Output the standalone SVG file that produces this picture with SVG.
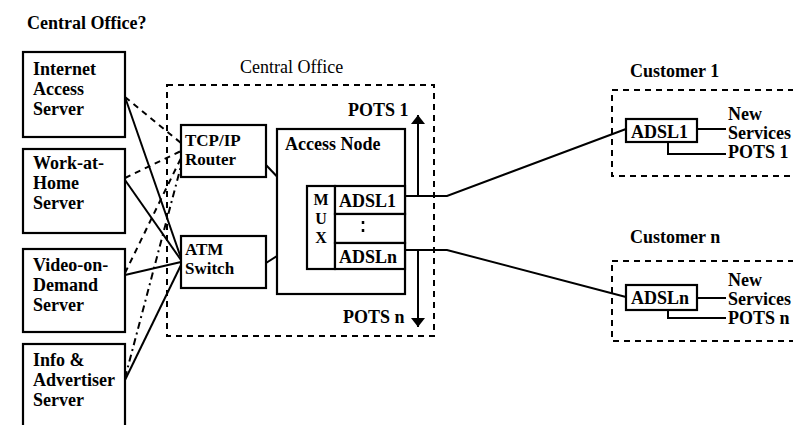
<svg xmlns="http://www.w3.org/2000/svg" width="793" height="425" viewBox="0 0 793 425">
  <style>
    text { font-family: "Liberation Serif", "Times New Roman", serif; font-size: 18px; font-weight: bold; fill: #000; }
    .light { font-weight: normal; }
    .tight { font-size: 17px; }
    .mux { font-size: 16px; }
    .box { fill: #fff; stroke: #000; stroke-width: 2.2; }
    .zone { fill: none; stroke: #000; stroke-width: 2; stroke-dasharray: 6 5; }
    .wire { fill: none; stroke: #000; stroke-width: 2; }
    .dash { fill: none; stroke: #000; stroke-width: 2; stroke-dasharray: 6 5; }
    .dashdot { fill: none; stroke: #000; stroke-width: 2; stroke-dasharray: 7 4 2 4; }
  </style>
  <defs>
    <marker id="arrow" viewBox="0 0 9 14" refX="9" refY="7" markerWidth="9" markerHeight="14" orient="auto" markerUnits="userSpaceOnUse">
      <path d="M0,0 L9,7 L0,14 z" fill="#000"/>
    </marker>
  </defs>
  <rect width="793" height="425" fill="#fff"/>

  <text x="27" y="29">Central Office?</text>

  <!-- zone outlines -->
  <g id="central-office">
    <rect class="zone" x="167" y="85" width="267" height="251"/>
    <text class="light" x="240" y="73">Central Office</text>
  </g>
  <g id="customer-1">
    <rect class="zone" x="612" y="90" width="200" height="86"/>
    <text x="630" y="77">Customer 1</text>
  </g>
  <g id="customer-n">
    <rect class="zone" x="612" y="261" width="200" height="80"/>
    <text x="630" y="243">Customer n</text>
  </g>

  <!-- servers -->
  <g id="internet-access-server">
    <rect class="box" x="23" y="52" width="102" height="85"/>
    <text x="33" y="75">Internet</text>
    <text x="33" y="95">Access</text>
    <text x="33" y="115">Server</text>
  </g>
  <g id="work-at-home-server">
    <rect class="box" x="23" y="149" width="102" height="84"/>
    <text x="33" y="169">Work-at-</text>
    <text x="33" y="189">Home</text>
    <text x="33" y="209">Server</text>
  </g>
  <g id="video-on-demand-server">
    <rect class="box" x="23" y="249" width="102" height="83"/>
    <text x="33" y="271">Video-on-</text>
    <text x="33" y="291">Demand</text>
    <text x="33" y="311">Server</text>
  </g>
  <g id="info-advertiser-server">
    <rect class="box" x="23" y="344" width="102" height="100"/>
    <text x="33" y="366">Info &amp;</text>
    <text x="33" y="386">Advertiser</text>
    <text x="33" y="406">Server</text>
  </g>

  <!-- connectors -->
  <g id="connectors">
    <!-- servers to router -->
    <path class="dash" d="M125,97 L181,143"/>
    <path class="dash" d="M125,178 L181,151"/>
    <path class="dash" d="M125,273 L181,158"/>
    <path class="dashdot" d="M125,378 L181,166"/>
    <!-- servers to switch -->
    <path class="wire" d="M125,97 L181,258"/>
    <path class="wire" d="M125,180 L181,260"/>
    <path class="wire" d="M125,275 L181,262"/>
    <path class="wire" d="M125,380 L181,265"/>
    <!-- router / switch to MUX -->
    <path class="wire" d="M266,165 L307,208"/>
    <path class="wire" d="M266,263 L307,237"/>
    <!-- subscriber loops -->
    <path class="wire" d="M405,196 L447,196 L626,129"/>
    <path class="wire" d="M405,250 L447,250 L626,297"/>
    <!-- POTS splits -->
    <path class="wire" d="M418,196 L418,115" marker-end="url(#arrow)"/>
    <path class="wire" d="M418,250 L418,327" marker-end="url(#arrow)"/>
    <!-- customer premises -->
    <path class="wire" d="M697,129 L726,129"/>
    <path class="wire" d="M668,142 L668,154 L726,154"/>
    <path class="wire" d="M697,298 L726,298"/>
    <path class="wire" d="M668,310 L668,318 L726,318"/>
  </g>

  <!-- central office equipment -->
  <g id="tcp-ip-router">
    <rect class="box" x="181" y="125" width="85" height="52"/>
    <text class="tight" x="185" y="146">TCP/IP</text>
    <text class="tight" x="185" y="165">Router</text>
  </g>
  <g id="atm-switch">
    <rect class="box" x="181" y="236" width="85" height="52"/>
    <text class="tight" x="185" y="255">ATM</text>
    <text class="tight" x="185" y="274">Switch</text>
  </g>
  <g id="access-node">
    <rect class="box" x="277" y="129" width="128" height="165"/>
    <text x="285" y="150">Access Node</text>
  </g>
  <g id="mux">
    <rect class="box" x="307" y="186" width="28" height="83"/>
    <text class="mux" x="321" y="205" text-anchor="middle">M</text>
    <text class="mux" x="321" y="224" text-anchor="middle">U</text>
    <text class="mux" x="321" y="243" text-anchor="middle">X</text>
  </g>
  <g id="adsl-1">
    <rect class="box" x="335" y="186" width="70" height="28"/>
    <text x="339" y="207">ADSL1</text>
  </g>
  <g id="adsl-gap">
    <rect class="box" x="335" y="214" width="70" height="29"/>
    <path d="M363,221 L363,236" stroke="#000" stroke-width="2.5" stroke-dasharray="3 5"/>
  </g>
  <g id="adsl-n">
    <rect class="box" x="335" y="243" width="70" height="26"/>
    <text x="339" y="263">ADSLn</text>
  </g>
  <g id="pots-labels">
    <text x="348" y="116">POTS 1</text>
    <text x="343" y="323">POTS n</text>
  </g>

  <!-- customer modems -->
  <g id="customer-1-modem">
    <rect class="box" x="626" y="119" width="71" height="23"/>
    <text x="631" y="138">ADSL1</text>
    <text x="728" y="120">New</text>
    <text x="728" y="139">Services</text>
    <text x="728" y="158">POTS 1</text>
  </g>
  <g id="customer-n-modem">
    <rect class="box" x="626" y="285" width="71" height="25"/>
    <text x="631" y="304">ADSLn</text>
    <text x="728" y="286">New</text>
    <text x="728" y="305">Services</text>
    <text x="728" y="324">POTS n</text>
  </g>
</svg>
